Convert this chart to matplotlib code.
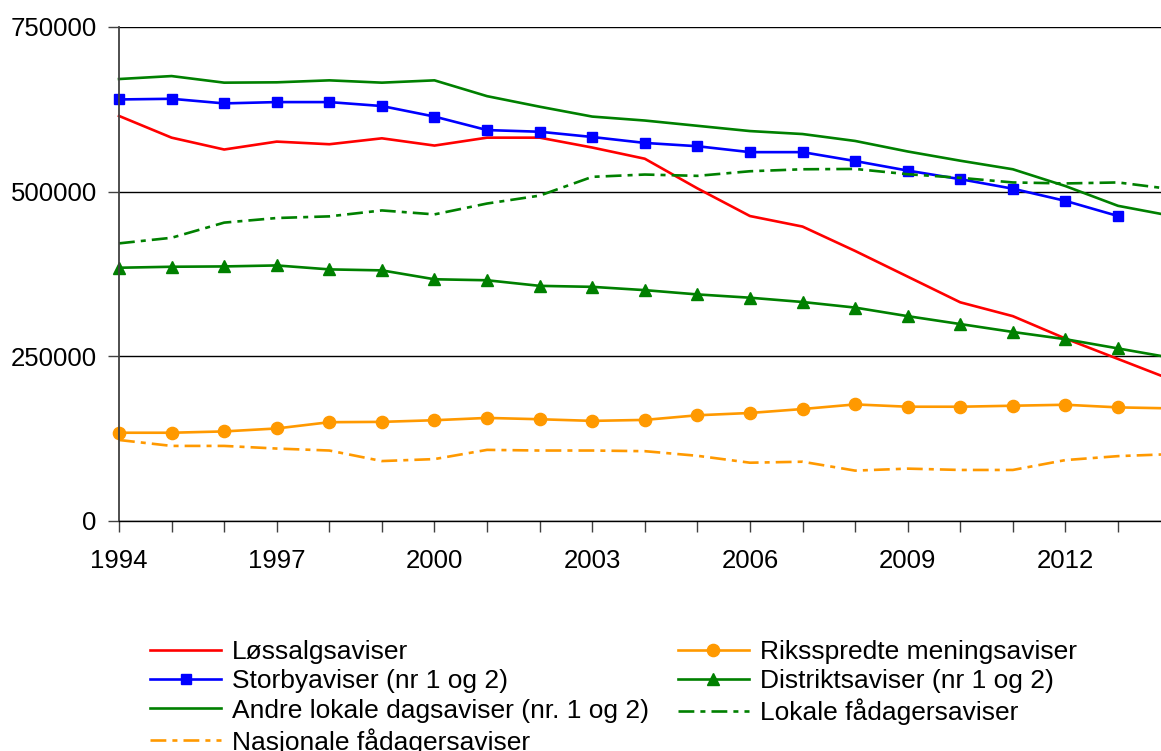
import numpy as np
import matplotlib
matplotlib.use("Agg")
import matplotlib.pyplot as plt
from matplotlib.ticker import MultipleLocator, FuncFormatter

plt.rcParams['font.family'] = ['Liberation Sans', 'DejaVu Sans']

# År
years = list(range(1994, 2015))

# Opplag per avistype (lest av figuren)
lossalg = [615000, 582000, 564000, 576000, 572000, 581000, 570000, 582000, 582000, 567000,
           550000, 505000, 463000, 447000, 410000, 371000, 332000, 311000, 277000, 246000, 215000]
storby = [640000, 641000, 634000, 636000, 636000, 630000, 614000, 593500, 591000, 583000,
          574000, 569000, 560000, 560000, 546500, 532000, 519000, 504500, 486000, 463000]
andre_lokale = [671000, 675500, 665500, 666000, 669000, 665500, 669000, 645000, 629000, 614000,
                608000, 600000, 592000, 587500, 577000, 561000, 547000, 534000, 508500, 478500, 463500]
lokale_fadager = [421500, 430000, 453000, 460000, 462500, 471500, 465500, 482000, 494000, 522500,
                  526000, 524000, 531000, 534000, 534500, 526500, 521000, 514000, 512500, 514000, 504000]
distrikt = [384500, 386000, 386500, 388000, 382000, 380500, 367000, 365500, 357000, 355500,
            350500, 344000, 339000, 332500, 324000, 311000, 299000, 287000, 276000, 262000, 248000]
riksspredte = [134000, 134000, 136000, 140500, 150000, 150500, 153000, 156500, 154500, 152000,
               153500, 160500, 164000, 170000, 177000, 173500, 173500, 175000, 176500, 172500, 171000]
nasjonale_fadager = [123000, 114000, 114000, 110000, 107000, 91000, 94000, 108000, 107000, 107000,
                     106000, 99000, 88500, 90000, 76500, 79500, 77500, 77500, 92500, 98500, 101500]

fig = plt.figure(figsize=(11.61, 7.51), dpi=100)
ax = fig.add_axes([119 / 1161, 1 - 521 / 751, 1 - 119 / 1161, (521 - 27) / 751])

red = '#FF0000'
blue = '#0000FF'
green = '#008000'
orange = '#FF9900'
dd = (6, 2.3, 1.9, 2.3)
lw = 1.9

l1, = ax.plot(years, lossalg, color=red, lw=lw, clip_on=False, label='Løssalgsaviser')
l2, = ax.plot(years[:len(storby)], storby, color=blue, lw=lw, marker='s', ms=7.5,
              clip_on=False, label='Storbyaviser (nr 1 og 2)')
l3, = ax.plot(years, andre_lokale, color=green, lw=lw, clip_on=False,
              label='Andre lokale dagsaviser (nr. 1 og 2)')
l4, = ax.plot(years, nasjonale_fadager, color=orange, lw=lw, dashes=dd, clip_on=False,
              label='Nasjonale fådagersaviser')
l5, = ax.plot(years, riksspredte, color=orange, lw=lw, marker='o', ms=8.8, clip_on=False,
              label='Riksspredte meningsaviser')
l6, = ax.plot(years, distrikt, color=green, lw=lw, marker='^', ms=9, clip_on=False,
              label='Distriktsaviser (nr 1 og 2)')
l7, = ax.plot(years, lokale_fadager, color=green, lw=lw, dashes=dd, clip_on=False,
              label='Lokale fådagersaviser')

ax.set_xlim(1994, 1994 + (1161 - 119) / 52.58)
ax.set_ylim(0, 750000)
ax.yaxis.set_major_locator(MultipleLocator(250000))
ax.yaxis.set_major_formatter(FuncFormatter(lambda v, p: '%d' % v))
ax.xaxis.set_major_locator(MultipleLocator(1))
ax.xaxis.set_major_formatter(FuncFormatter(lambda v, p: '%d' % v if (int(round(v)) - 1994) % 3 == 0 else ''))

ax.grid(axis='y', color='black', lw=1)
ax.set_axisbelow(True)
for s in ['top', 'right']:
    ax.spines[s].set_visible(False)
ax.spines['left'].set_color('#404040')
ax.spines['left'].set_linewidth(1.3)
ax.spines['bottom'].set_color('black')
ax.spines['bottom'].set_linewidth(1)
ax.tick_params(axis='both', direction='out', length=8, width=1, color='#404040', labelsize=18.5)
ax.tick_params(axis='y', pad=8)
ax.tick_params(axis='x', pad=12)

fig.legend(handles=[l1, l2, l3, l4, l5, l6, l7], loc='upper left',
           bbox_to_anchor=(150 / 1161, 1 - 640 / 751), ncol=2, frameon=False,
           fontsize=19, borderpad=0, borderaxespad=0, handlelength=2.7,
           handletextpad=0.4, columnspacing=1.1, labelspacing=0.2)

fig.savefig('out.png', dpi=100)
